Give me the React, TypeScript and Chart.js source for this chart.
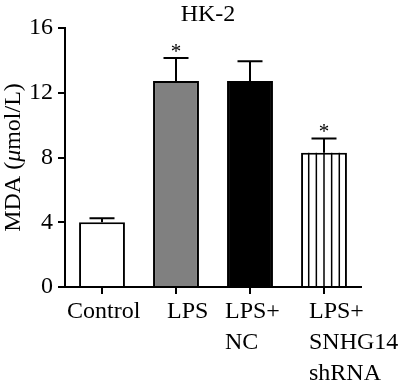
import React, { useEffect, useRef } from "react";
import { Chart, registerables } from "chart.js";

Chart.register(...registerables);

// ---- data ----
const categories: string[][] = [["Control"], ["LPS"], ["LPS+", "NC"], ["LPS+", "SNHG14", "shRNA"]];
const mdaMeans = [4.0, 12.73, 12.73, 8.29];
const mdaErrors = [0.25, 1.41, 1.21, 0.89];
const significant = [false, true, false, true];
const yTicks = [0, 4, 8, 12, 16];
const chartTitle = "HK-2";
const yTitleParts = [
  { text: "MDA (", italic: false },
  { text: "\u03bc", italic: true },
  { text: "mol/L)", italic: false },
];

// ---- styles ----
const FONT = '"Liberation Serif", "Times New Roman", serif';
const barFills = ["#ffffff", "#808080", "#000000", "#ffffff"];
const hatched = [false, false, false, true];
// left edge of each x-label block relative to its tick
const labelLeftOffsets = [-35, -9, -25, -15];

const decorPlugin = {
  id: "decor",
  afterDatasetsDraw(chart: any) {
    const ctx = chart.ctx as CanvasRenderingContext2D;
    const meta = chart.getDatasetMeta(0);
    const ys = chart.scales.y;
    ctx.save();
    meta.data.forEach((bar: any, i: number) => {
      const { x, y: top, width, base } = bar.getProps(["x", "y", "width", "base"], true);
      const left = x - width / 2;
      if (hatched[i]) {
        ctx.strokeStyle = "#000";
        ctx.lineWidth = 1.5;
        const n = 6;
        for (let k = 1; k < n; k++) {
          const lx = left + (width * k) / n;
          ctx.beginPath();
          ctx.moveTo(lx, top);
          ctx.lineTo(lx, base);
          ctx.stroke();
        }
      }
      const yErr = ys.getPixelForValue(mdaMeans[i] + mdaErrors[i]);
      ctx.strokeStyle = "#000";
      ctx.lineWidth = 2;
      ctx.beginPath();
      ctx.moveTo(x, top);
      ctx.lineTo(x, yErr);
      ctx.moveTo(x - 12.5, yErr);
      ctx.lineTo(x + 12.5, yErr);
      ctx.stroke();
      if (significant[i]) {
        ctx.font = `21px ${FONT}`;
        ctx.textAlign = "center";
        ctx.textBaseline = "alphabetic";
        ctx.fillStyle = "#000";
        ctx.fillText("*", x, yErr);
      }
    });
    ctx.restore();
  },
  afterDraw(chart: any) {
    const ctx = chart.ctx as CanvasRenderingContext2D;
    const area = chart.chartArea;
    const xs = chart.scales.x;
    ctx.save();
    ctx.fillStyle = "#000";
    // x labels (lines left aligned)
    ctx.font = `24px ${FONT}`;
    ctx.textAlign = "left";
    ctx.textBaseline = "alphabetic";
    categories.forEach((lines, i) => {
      const cx = xs.getPixelForValue(i);
      const left = cx + labelLeftOffsets[i];
      lines.forEach((l, j) => ctx.fillText(l, left, area.bottom + 31 + j * 31));
    });
    // title
    ctx.font = `24px ${FONT}`;
    ctx.textAlign = "center";
    ctx.fillText(chartTitle, (area.left + area.right) / 2 - 5, 21);
    // y title
    ctx.translate(19.5, (area.top + area.bottom) / 2);
    ctx.rotate(-Math.PI / 2);
    ctx.textAlign = "left";
    const fontFor = (it: boolean) => `${it ? "italic " : ""}24px ${FONT}`;
    let total = 0;
    yTitleParts.forEach((p) => {
      ctx.font = fontFor(p.italic);
      total += ctx.measureText(p.text).width;
    });
    let pos = -total / 2;
    yTitleParts.forEach((p) => {
      ctx.font = fontFor(p.italic);
      ctx.fillText(p.text, pos, 0);
      pos += ctx.measureText(p.text).width;
    });
    ctx.restore();
  },
};

export default function App() {
  const ref = useRef<HTMLCanvasElement | null>(null);
  useEffect(() => {
    if (!ref.current) return;
    const chart = new Chart(ref.current, {
      type: "bar",
      data: {
        labels: categories.map((l) => l.join(" ")),
        datasets: [
          {
            data: mdaMeans,
            backgroundColor: barFills,
            borderColor: "#000",
            borderWidth: 2,
            borderSkipped: "start",
            barPercentage: 0.62,
            categoryPercentage: 1,
          },
        ],
      },
      options: {
        animation: false,
        responsive: false,
        devicePixelRatio: 1,
        layout: { padding: { top: 28, right: 37, left: 0, bottom: 0 } },
        plugins: {
          legend: { display: false },
          tooltip: { enabled: false },
          title: { display: false },
        },
        scales: {
          x: {
            z: 1,
            grid: {
              display: true,
              drawOnChartArea: false,
              drawTicks: true,
              tickLength: 7,
              lineWidth: 2,
              color: "#000",
              offset: false,
            },
            border: { display: true, color: "#000", width: 2 },
            ticks: { display: false },
            afterFit: (s: any) => {
              s.height = 101;
            },
          },
          y: {
            min: yTicks[0],
            max: yTicks[yTicks.length - 1],
            afterBuildTicks: (s: any) => {
              s.ticks = yTicks.map((v) => ({ value: v }));
            },
            grid: {
              drawOnChartArea: false,
              drawTicks: true,
              tickLength: 7,
              lineWidth: 2,
              color: "#000",
            },
            border: { display: true, color: "#000", width: 2 },
            ticks: { font: { family: FONT, size: 24 }, color: "#000", padding: 5 },
            afterFit: (s: any) => {
              s.width = 65;
            },
          },
        },
      },
      plugins: [decorPlugin],
    } as any);
    return () => chart.destroy();
  }, []);
  return (
    <div style={{ position: "fixed", left: 0, top: 0, width: 398, height: 388, background: "#fff" }}>
      <canvas ref={ref} width={398} height={388} style={{ display: "block" }} />
    </div>
  );
}
